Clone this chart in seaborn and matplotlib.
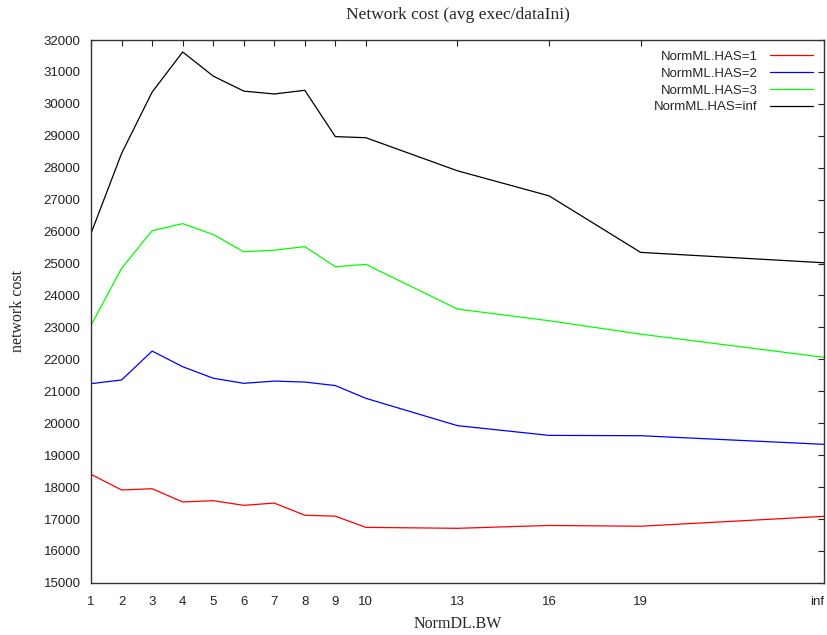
"""
Network cost vs NormDL.BW, one line per NormML.HAS setting
"""

import matplotlib
matplotlib.use("Agg")
import matplotlib.pyplot as plt
import pandas as pd
import seaborn as sns

# x axis: bandwidth settings ("inf" placed after 19)
bw_labels = ['1', '2', '3', '4', '5', '6', '7', '8', '9', '10', '13', '16', '19', 'inf']
bw_pos = [1, 2, 3, 4, 5, 6, 7, 8, 9, 10, 13, 16, 19, 25]

series_names = ['NormML.HAS=1', 'NormML.HAS=2', 'NormML.HAS=3', 'NormML.HAS=inf']
series_colors = ['#ff0000', '#0000ff', '#00ff00', '#000000']

has_1 = [18400, 17910, 17950, 17535, 17575, 17430, 17500, 17120, 17090, 16740,
         16710, 16800, 16775, 17085]
has_2 = [21240, 21355, 22260, 21770, 21410, 21250, 21320, 21290, 21180, 20780,
         19925, 19620, 19610, 19340]
has_3 = [23070, 24850, 26030, 26250, 25910, 25370, 25420, 25530, 24900, 24975,
         23575, 23210, 22790, 22065]
has_inf = [25950, 28450, 30370, 31625, 30870, 30400, 30310, 30425, 28975, 28940,
           27905, 27120, 25350, 25025]

df = pd.DataFrame({
    'bw': bw_pos * 4,
    'cost': has_1 + has_2 + has_3 + has_inf,
    'series': [n for n in series_names for _ in bw_pos],
})

sns.set_style("white")
plt.rcParams['font.family'] = ['Liberation Sans', 'DejaVu Sans']

fig = plt.figure(figsize=(8.28, 6.35), dpi=100)
ax = fig.add_axes([0.110, 0.082, 0.885, 0.855])

sns.lineplot(data=df, x='bw', y='cost', hue='series', hue_order=series_names,
             palette=dict(zip(series_names, series_colors)), linewidth=0.9, ax=ax)

ax.set_xlim(1, 25)
ax.set_ylim(15000, 32000)
ax.set_xticks(bw_pos)
ax.set_xticklabels(bw_labels)
ax.set_yticks(range(15000, 32001, 1000))
ax.tick_params(direction='in', top=True, right=True, length=4, width=0.8,
               labelsize=9.5, colors='#222222')
ax.tick_params(axis='x', pad=9.5)
ax.tick_params(axis='y', pad=7.5)
# keep the last label inside the figure
ax.get_xticklabels()[-1].set_horizontalalignment('right')
for sp in ax.spines.values():
    sp.set_color('#333333')
    sp.set_linewidth(1.0)

serif = ['Liberation Serif', 'DejaVu Serif']
ax.set_title('Network cost (avg exec/dataIni)', family=serif, fontsize=12.5, pad=15)
ax.set_xlabel('NormDL.BW', family=serif, fontsize=11.5, labelpad=6)
ax.set_ylabel('network cost', family=serif, fontsize=11.5, labelpad=13)

ax.legend(loc='upper right', frameon=False, markerfirst=False, fontsize=9.5,
          handlelength=3.3, handletextpad=0.9, labelspacing=0.35,
          borderaxespad=0.4, title=None)

fig.savefig('out.png', dpi=100)
